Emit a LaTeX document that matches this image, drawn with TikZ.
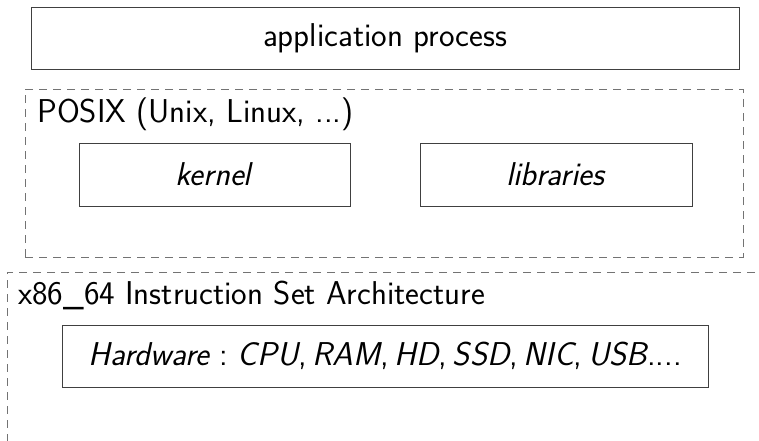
\documentclass[tikz,border=0pt]{standalone}
\usepackage{tikz}
\usetikzlibrary{positioning}
\tikzstyle{every node}=[font=\fontsize{33}{40}\selectfont\sffamily]
\tikzstyle{box}=[draw=black!75,line width=1pt,minimum height=62pt,inner sep=0pt]
\tikzstyle{layer}=[draw=black!55,line width=1pt,dash pattern=on 8pt off 6pt,inner sep=0pt]

\begin{document}
\begin{tikzpicture}[x=1pt,y=-1pt]
\useasboundingbox (0,0) rectangle (759,440);
\node[box,minimum width=708pt]    (app)     at (385,38)    {application process};
\node[layer,minimum width=718pt,minimum height=168pt] (posix) at (384,173) {};
\node[anchor=base west,inner sep=0pt] (posix_lbl) at (37,122) {POSIX (Unix, Linux, ...)};
\node[box,minimum width=271pt,minimum height=63pt] (kernel) at (214.5,174.5) {\textit{kernel}};
\node[box,minimum width=272pt,minimum height=63pt] (libs)   [right=69pt of kernel] {\textit{libraries}};
\node[layer,minimum width=763pt,minimum height=188pt] (isa) at (388.5,366) {};
\node[anchor=base west,inner sep=0pt] (isa_lbl) at (18,304) {x86\_64 Instruction Set Architecture};
\node[box,minimum width=646pt] (hw) at (385,356)
  {\textit{Hardware}\;:\;\textit{CPU},\,\textit{RAM},\,\textit{HD},\,\textit{SSD},\,\textit{NIC},\,\textit{USB}....};
\end{tikzpicture}
\end{document}
